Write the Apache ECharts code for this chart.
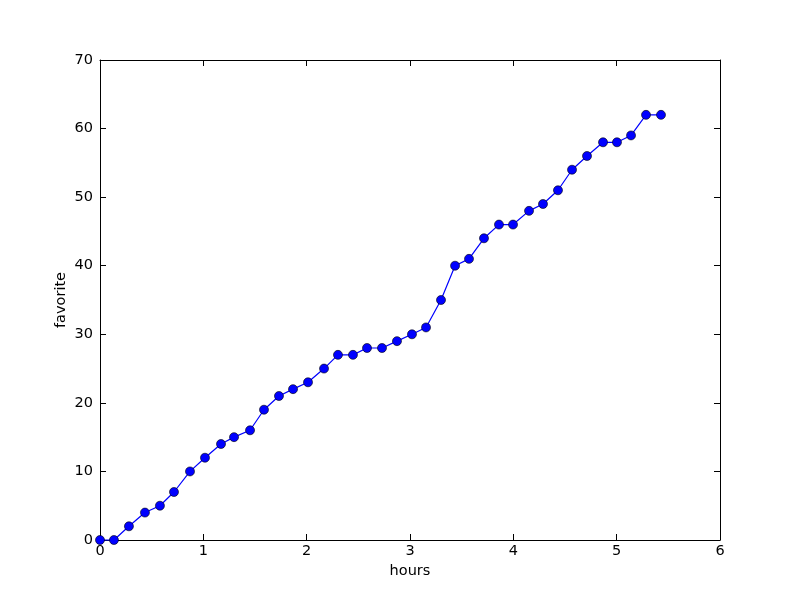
<!DOCTYPE html>
<html><head><meta charset="utf-8">
<script src="https://cdn.jsdelivr.net/npm/echarts@6/dist/echarts.min.js"></script>
<style>html,body{margin:0;padding:0;background:#fff}#c{width:800px;height:600px}</style>
</head><body><div id="c"></div>
<script>
const hours = [0, 0.135, 0.28, 0.435, 0.58, 0.716, 0.871, 1.016, 1.171, 1.297, 1.452, 1.587, 1.732, 1.868, 2.013, 2.168, 2.303, 2.448, 2.584, 2.729, 2.874, 3.019, 3.155, 3.3, 3.436, 3.571, 3.716, 3.861, 3.997, 4.152, 4.287, 4.432, 4.568, 4.713, 4.868, 5.003, 5.139, 5.284, 5.429];
const favorite = [0, 0, 2, 4, 5, 7, 10, 12, 14, 15, 16, 19, 21, 22, 23, 25, 27, 27, 28, 28, 29, 30, 31, 35, 40, 41, 44, 46, 46, 48, 49, 51, 54, 56, 58, 58, 59, 62, 62];
const xTicks = [0, 1, 2, 3, 4, 5, 6];
const yTicks = [0, 10, 20, 30, 40, 50, 60, 70];

const font = 'DejaVu Sans';
const fs = 14.5;
const chart = echarts.init(document.getElementById('c'), null, {renderer: 'canvas'});
const lineStyle = {color: '#000', width: 1};
const tickIn = {show: true, inside: true, length: 6, lineStyle: {color: '#000', width: 1}};
chart.setOption({
  animation: false,
  backgroundColor: '#fff',
  grid: {left: 100, right: 80, top: 60, bottom: 60, containLabel: false},
  xAxis: [{
    type: 'value', min: xTicks[0], max: xTicks[xTicks.length - 1], interval: 1,
    name: 'hours', nameLocation: 'middle', nameGap: 23,
    nameTextStyle: {fontFamily: font, fontSize: fs, color: '#000'},
    axisLine: {show: true, onZero: false, lineStyle: lineStyle},
    axisTick: tickIn, splitLine: {show: false},
    axisLabel: {fontFamily: font, fontSize: fs, color: '#000', margin: 4}
  }, {
    type: 'value', position: 'top', min: xTicks[0], max: xTicks[xTicks.length - 1], interval: 1,
    axisLine: {show: true, onZero: false, lineStyle: lineStyle},
    axisTick: tickIn, splitLine: {show: false}, axisLabel: {show: false}
  }],
  yAxis: [{
    type: 'value', min: yTicks[0], max: yTicks[yTicks.length - 1], interval: 10,
    name: 'favorite', nameLocation: 'middle', nameGap: 31, nameRotate: 90, nameMoveOverlap: false,
    nameTextStyle: {fontFamily: font, fontSize: fs, color: '#000'},
    axisLine: {show: true, onZero: false, lineStyle: lineStyle},
    axisTick: tickIn, splitLine: {show: false},
    axisLabel: {fontFamily: font, fontSize: fs, color: '#000', margin: 7}
  }, {
    type: 'value', position: 'right', min: yTicks[0], max: yTicks[yTicks.length - 1], interval: 10,
    axisLine: {show: true, onZero: false, lineStyle: lineStyle},
    axisTick: tickIn, splitLine: {show: false}, axisLabel: {show: false}
  }],
  series: [{
    type: 'line', xAxisIndex: 0, yAxisIndex: 0,
    data: hours.map((h, i) => [h, favorite[i]]),
    symbol: 'circle', symbolSize: 9, clip: false,
    lineStyle: {color: '#0000ff', width: 1.2},
    itemStyle: {color: '#0000ff', borderColor: '#000', borderWidth: 0.6}
  }]
});
</script></body></html>
